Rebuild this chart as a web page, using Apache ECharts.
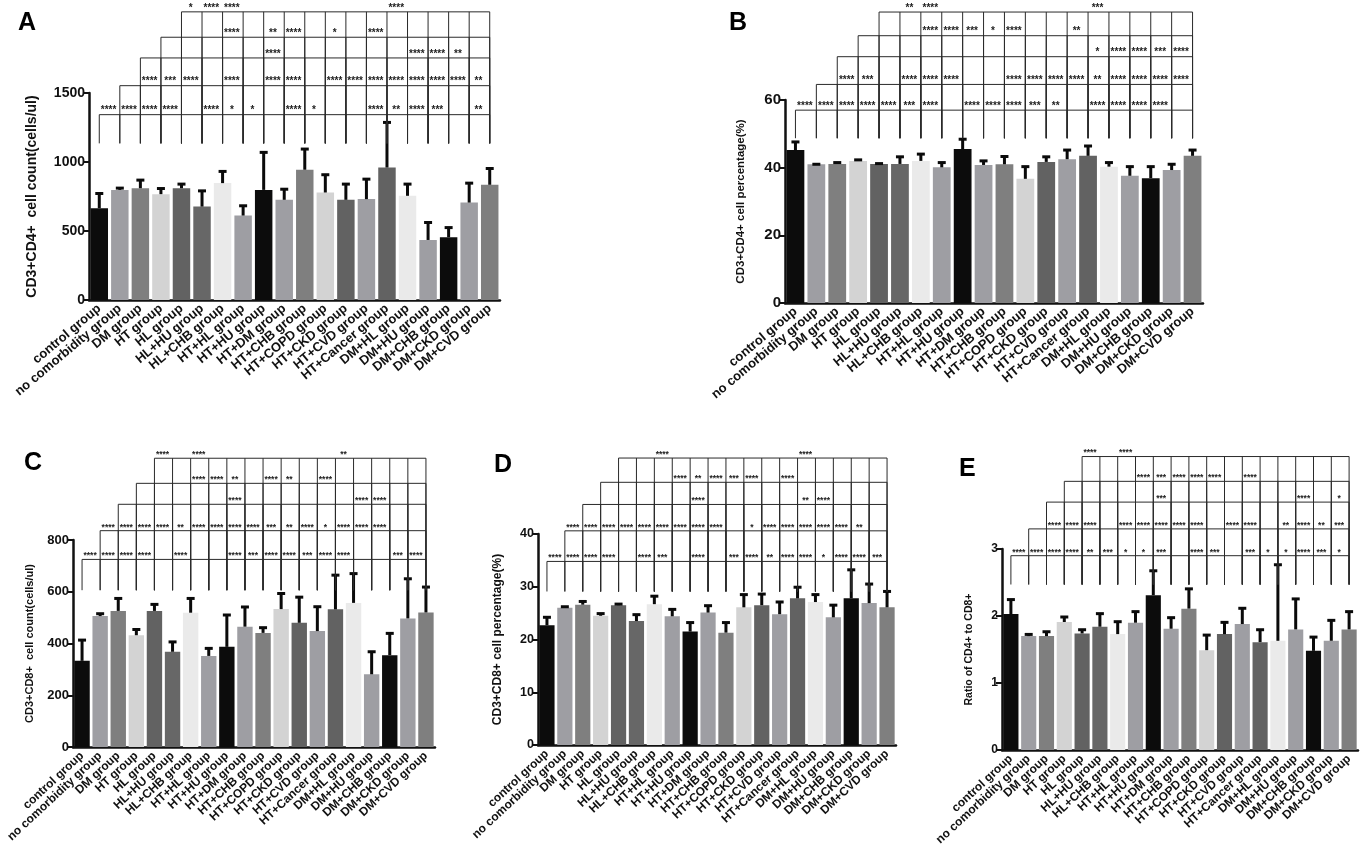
<!DOCTYPE html>
<html>
<head>
<meta charset="utf-8">
<title>T lymphocyte subsets by comorbidity group</title>
<script src="https://cdn.jsdelivr.net/npm/echarts@6.0.0/dist/echarts.min.js"></script>
<style>
  html, body { margin: 0; padding: 0; background: #fff; }
  #main { width: 1362px; height: 855px; }
</style>
</head>
<body>
<div id="main"></div>
<script>
var categories = [
  'control group', 'no comorbidity group', 'DM group', 'HT group', 'HL group',
  'HL+HU group', 'HL+CHB group', 'HT+HL group', 'HT+HU group', 'HT+DM group',
  'HT+CHB group', 'HT+COPD group', 'HT+CKD group', 'HT+CVD group', 'HT+Cancer group',
  'DM+HL group', 'DM+HU group', 'DM+CHB group', 'DM+CKD group', 'DM+CVD group'
];

// grey levels of the bars, same order in every panel
var barColors = [
  '#0c0c0c', '#9e9ea3', '#7f7f7f', '#d3d3d3', '#626262',
  '#676767', '#eaeaea', '#9e9ea3', '#0c0c0c', '#9e9ea3',
  '#7f7f7f', '#d3d3d3', '#626262', '#9e9ea3', '#626262',
  '#eaeaea', '#9e9ea3', '#0c0c0c', '#9e9ea3', '#7f7f7f'
];

/* A  CD3+CD4+ count */
var cd4CountMean = [665, 798, 810, 767, 810, 677, 847, 612, 798, 726, 944, 779, 726, 731, 960, 755, 435, 455, 706, 835];
var cd4CountSd   = [114, 20, 66, 48, 37, 121, 92, 78, 279, 84, 157, 136, 121, 152, 334, 92, 134, 77, 148, 125];
var cd4CountTicks = [0, 500, 1000, 1500];
var cd4CountStars = [
  {1:'****', 2:'****', 3:'****', 4:'****', 6:'****', 7:'*', 8:'*', 10:'****', 11:'*', 14:'****', 15:'**', 16:'****', 17:'***', 19:'**'},
  {3:'****', 4:'***', 5:'****', 7:'****', 9:'****', 10:'****', 12:'****', 13:'****', 14:'****', 15:'****', 16:'****', 17:'****', 18:'****', 19:'**'},
  {9:'****', 16:'****', 17:'****', 18:'**'},
  {7:'****', 9:'**', 10:'****', 12:'*', 14:'****'},
  {5:'*', 6:'****', 7:'****', 15:'****'}
];

/* B  CD3+CD4+ percentage */
var cd4PctMean = [45.2, 41.0, 41.1, 42.0, 41.1, 41.1, 42.0, 40.1, 45.5, 40.8, 41.0, 36.7, 41.7, 42.5, 43.5, 40.3, 37.6, 36.9, 39.3, 43.5];
var cd4PctSd   = [2.7, 0.3, 0.7, 0.6, 0.4, 2.4, 2.3, 1.7, 3.2, 1.5, 2.6, 3.9, 1.8, 3.0, 3.2, 1.5, 3.0, 3.7, 2.0, 2.0];
var cd4PctTicks = [0, 20, 40, 60];
var cd4PctStars = [
  {1:'****', 2:'****', 3:'****', 4:'****', 5:'****', 6:'***', 7:'****', 9:'****', 10:'****', 11:'****', 12:'***', 13:'**', 15:'****', 16:'****', 17:'****', 18:'****'},
  {3:'****', 4:'***', 6:'****', 7:'****', 8:'****', 11:'****', 12:'****', 13:'****', 14:'****', 15:'**', 16:'****', 17:'****', 18:'****', 19:'****'},
  {15:'*', 16:'****', 17:'****', 18:'***', 19:'****'},
  {7:'****', 8:'****', 9:'***', 10:'*', 11:'****', 14:'**'},
  {6:'**', 7:'****', 15:'***'}
];

/* C  CD3+CD8+ count */
var cd8CountMean = [333, 506, 526, 432, 526, 368, 519, 352, 387, 465, 441, 533, 480, 448, 532, 557, 281, 355, 497, 520];
var cd8CountSd   = [84, 13, 52, 26, 29, 42, 59, 33, 127, 80, 24, 64, 103, 98, 136, 117, 91, 88, 157, 102];
var cd8CountTicks = [0, 200, 400, 600, 800];
var cd8CountStars = [
  {1:'****', 2:'****', 3:'****', 4:'****', 6:'****', 9:'****', 10:'***', 11:'****', 12:'****', 13:'***', 14:'****', 15:'****', 18:'***', 19:'****'},
  {2:'****', 3:'****', 4:'****', 5:'****', 6:'**', 7:'****', 8:'****', 9:'****', 10:'****', 11:'***', 12:'**', 13:'****', 14:'*', 15:'****', 16:'****', 17:'****'},
  {9:'****', 16:'****', 17:'****'},
  {7:'****', 8:'****', 9:'**', 11:'****', 12:'**', 14:'****'},
  {5:'****', 7:'****', 15:'**'}
];

/* D  CD3+CD8+ percentage */
var cd8PctMean = [22.7, 26.0, 26.6, 24.5, 26.5, 23.5, 26.7, 24.4, 21.5, 25.1, 21.3, 26.1, 26.5, 24.8, 27.8, 27.1, 24.2, 27.8, 26.9, 26.1];
var cd8PctSd   = [1.7, 0.4, 0.8, 0.6, 0.4, 1.4, 1.7, 1.5, 1.9, 1.5, 2.1, 2.6, 2.3, 2.5, 2.3, 1.6, 2.5, 5.6, 3.8, 3.2];
var cd8PctTicks = [0, 10, 20, 30, 40];
var cd8PctStars = [
  {1:'****', 2:'****', 3:'****', 4:'****', 6:'****', 7:'***', 9:'****', 11:'***', 12:'****', 13:'**', 14:'****', 15:'****', 16:'*', 17:'****', 18:'****', 19:'***'},
  {2:'****', 3:'****', 4:'****', 5:'****', 6:'****', 7:'****', 8:'****', 9:'****', 10:'****', 12:'*', 13:'****', 14:'****', 15:'****', 16:'****', 17:'****', 18:'**'},
  {9:'****', 15:'**', 16:'****'},
  {8:'****', 9:'**', 10:'****', 11:'***', 12:'****', 14:'****'},
  {7:'****', 15:'****'}
];

/* E  CD4+/CD8+ ratio */
var ratioMean = [2.03, 1.70, 1.70, 1.91, 1.74, 1.84, 1.73, 1.90, 2.31, 1.81, 2.11, 1.49, 1.73, 1.88, 1.61, 1.63, 1.80, 1.48, 1.63, 1.80];
var ratioSd   = [0.23, 0.04, 0.08, 0.09, 0.07, 0.21, 0.20, 0.18, 0.38, 0.18, 0.31, 0.24, 0.19, 0.25, 0.20, 1.15, 0.47, 0.22, 0.32, 0.28];
var ratioTicks = [0, 1, 2, 3];
var ratioStars = [
  {1:'****', 2:'****', 3:'****', 4:'****', 5:'**', 6:'***', 7:'*', 8:'*', 9:'***', 11:'****', 12:'***', 14:'***', 15:'*', 16:'*', 17:'****', 18:'***', 19:'*'},
  {3:'****', 4:'****', 5:'****', 7:'****', 8:'****', 9:'****', 10:'****', 11:'****', 13:'****', 14:'****', 16:'**', 17:'****', 18:'**', 19:'***'},
  {9:'***', 17:'****', 19:'*'},
  {8:'****', 9:'***', 10:'****', 11:'****', 12:'****', 14:'****'},
  {5:'****', 7:'****'}
];

var FONT = '"Liberation Sans", Arial, sans-serif';

/* layout of each panel; bracket heights are in data units of that panel */
var panels = [
  { letter: 'A', lx: 13, ly: 6, grid: { left: 89, top: 93, width: 411, height: 207 },
    mean: cd4CountMean, sd: cd4CountSd, ticks: cd4CountTicks, stars: cd4CountStars,
    yName: 'CD3+CD4+  cell count(cells/ul)', nameGap: 50,
    levels: [1343, 1553, 1754, 1904, 2088], dropTo: 1135,
    labelSize: 13, rotate: 40, tickSize: 14, nameSize: 14, starSize: 10 },
  { letter: 'B', lx: 724, ly: 6, grid: { left: 785, top: 100, width: 418, height: 203 },
    mean: cd4PctMean, sd: cd4PctSd, ticks: cd4PctTicks, stars: cd4PctStars,
    yName: 'CD3+CD4+ cell percentage(%)', nameGap: 38,
    levels: [57.0, 64.6, 72.8, 79.0, 86.0], dropTo: 48.7,
    labelSize: 13, rotate: 40, tickSize: 15, nameSize: 11.5, starSize: 10 },
  { letter: 'C', lx: 19, ly: 446, grid: { left: 73, top: 540, width: 362, height: 207 },
    mean: cd8CountMean, sd: cd8CountSd, ticks: cd8CountTicks, stars: cd8CountStars,
    yName: 'CD3+CD8+  cell count(cells/ul)', nameGap: 38,
    levels: [725, 836, 938, 1019, 1116], dropTo: 606,
    labelSize: 12, rotate: 43, tickSize: 13, nameSize: 11, starSize: 8.5 },
  { letter: 'D', lx: 489, ly: 448, grid: { left: 538, top: 534, width: 358, height: 211 },
    mean: cd8PctMean, sd: cd8PctSd, ticks: cd8PctTicks, stars: cd8PctStars,
    yName: 'CD3+CD8+ cell percentage(%)', nameGap: 34,
    levels: [34.8, 40.6, 45.6, 49.8, 54.4], dropTo: 29.1,
    labelSize: 12, rotate: 43, tickSize: 12.5, nameSize: 12, starSize: 8.5 },
  { letter: 'E', lx: 954, ly: 452, grid: { left: 1002, top: 549, width: 356, height: 201 },
    mean: ratioMean, sd: ratioSd, ticks: ratioTicks, stars: ratioStars,
    yName: 'Ratio of CD4+ to CD8+', nameGap: 27,
    levels: [2.90, 3.30, 3.70, 4.01, 4.38], dropTo: 2.47,
    labelSize: 12, rotate: 43, tickSize: 12, nameSize: 10.5, starSize: 8.5 }
];

var bracketStarts = [0, 1, 2, 3, 4];

/* 误差线：只画上半部分 */
function errorSeries(p, idx) {
  var data = p.mean.map(function (m, i) { return [i, m + p.sd[i], m]; });
  return {
    type: 'custom', xAxisIndex: idx, yAxisIndex: idx, clip: false, z: 3,
    data: data,
    renderItem: function (params, api) {
      var top = api.coord([api.value(0), api.value(1)]);
      var base = api.coord([api.value(0), api.value(2)]);
      var cap = 4;
      return {
        type: 'group',
        children: [
          { type: 'line', shape: { x1: base[0], y1: base[1], x2: top[0], y2: top[1] + 1 },
            style: { stroke: '#0a0a0a', lineWidth: 3 } },
          { type: 'line', shape: { x1: top[0] - cap, y1: top[1] + 1, x2: top[0] + cap, y2: top[1] + 1 },
            style: { stroke: '#0a0a0a', lineWidth: 3 } }
        ]
      };
    }
  };
}

/* 显著性标记的横线、竖线和星号 */
function bracketSeries(p, idx) {
  var last = categories.length - 1;
  var data = p.levels.map(function (h, k) { return [bracketStarts[k], h, k]; });
  return {
    type: 'custom', xAxisIndex: idx, yAxisIndex: idx, clip: false, silent: true, z: 4,
    data: data,
    renderItem: function (params, api) {
      var start = api.value(0), h = api.value(1), k = api.value(2);
      var left = api.coord([start, h]);
      var right = api.coord([last, h]);
      var children = [
        { type: 'line', shape: { x1: left[0], y1: left[1], x2: right[0], y2: right[1] },
          style: { stroke: '#2a2a2a', lineWidth: 1 } }
      ];
      for (var i = start; i <= last; i++) {
        var a = api.coord([i, h]);
        var b = api.coord([i, p.dropTo]);
        children.push({ type: 'line', shape: { x1: a[0], y1: a[1], x2: b[0], y2: b[1] },
          style: { stroke: '#2a2a2a', lineWidth: 1 } });
        var txt = p.stars[k][i];
        if (txt && i > 0) {
          var prev = api.coord([i - 1, h]);
          children.push({ type: 'text', style: {
            text: txt, x: (prev[0] + a[0]) / 2 - 1, y: a[1] + 1,
            align: 'center', verticalAlign: 'bottom',
            font: 'bold ' + p.starSize + 'px ' + FONT, fill: '#222'
          } });
        }
      }
      return { type: 'group', children: children };
    }
  };
}

var option = {
  backgroundColor: '#fff',
  animation: false,
  textStyle: { fontFamily: FONT },
  title: [],
  grid: [],
  xAxis: [],
  yAxis: [],
  series: []
};

panels.forEach(function (p, idx) {
  var t = p.ticks;
  option.title.push({
    text: p.letter, left: p.lx, top: p.ly,
    textStyle: { fontSize: 25, fontWeight: 'bold', color: '#000', fontFamily: FONT }
  });
  option.grid.push(p.grid);
  option.xAxis.push({
    type: 'category', gridIndex: idx, data: categories,
    axisLine: { lineStyle: { color: '#111', width: 2.5 } },
    axisTick: { alignWithLabel: true, length: 5, lineStyle: { color: '#111', width: 2 } },
    axisLabel: { interval: 0, rotate: p.rotate, margin: 7, fontSize: p.labelSize,
      fontWeight: 'bold', color: '#111', fontFamily: FONT }
  });
  option.yAxis.push({
    type: 'value', gridIndex: idx,
    min: t[0], max: t[t.length - 1], interval: t[1] - t[0],
    name: p.yName, nameLocation: 'middle', nameGap: p.nameGap,
    nameTextStyle: { fontSize: p.nameSize, fontWeight: 'bold', color: '#111', fontFamily: FONT },
    axisLine: { show: true, lineStyle: { color: '#111', width: 2.5 } },
    axisTick: { show: true, length: 6, lineStyle: { color: '#111', width: 2 } },
    axisLabel: { margin: 4, fontSize: p.tickSize, fontWeight: 'bold', color: '#111', fontFamily: FONT,
      formatter: function (v) { return String(v); } },
    splitLine: { show: false }
  });
  option.series.push({
    type: 'bar', xAxisIndex: idx, yAxisIndex: idx, barCategoryGap: '15%', z: 2,
    data: p.mean.map(function (m, i) { return { value: m, itemStyle: { color: barColors[i] } }; })
  });
  option.series.push(errorSeries(p, idx));
  option.series.push(bracketSeries(p, idx));
});

var chart = echarts.init(document.getElementById('main'), null, { renderer: 'canvas' });
chart.setOption(option);
</script>
</body>
</html>
